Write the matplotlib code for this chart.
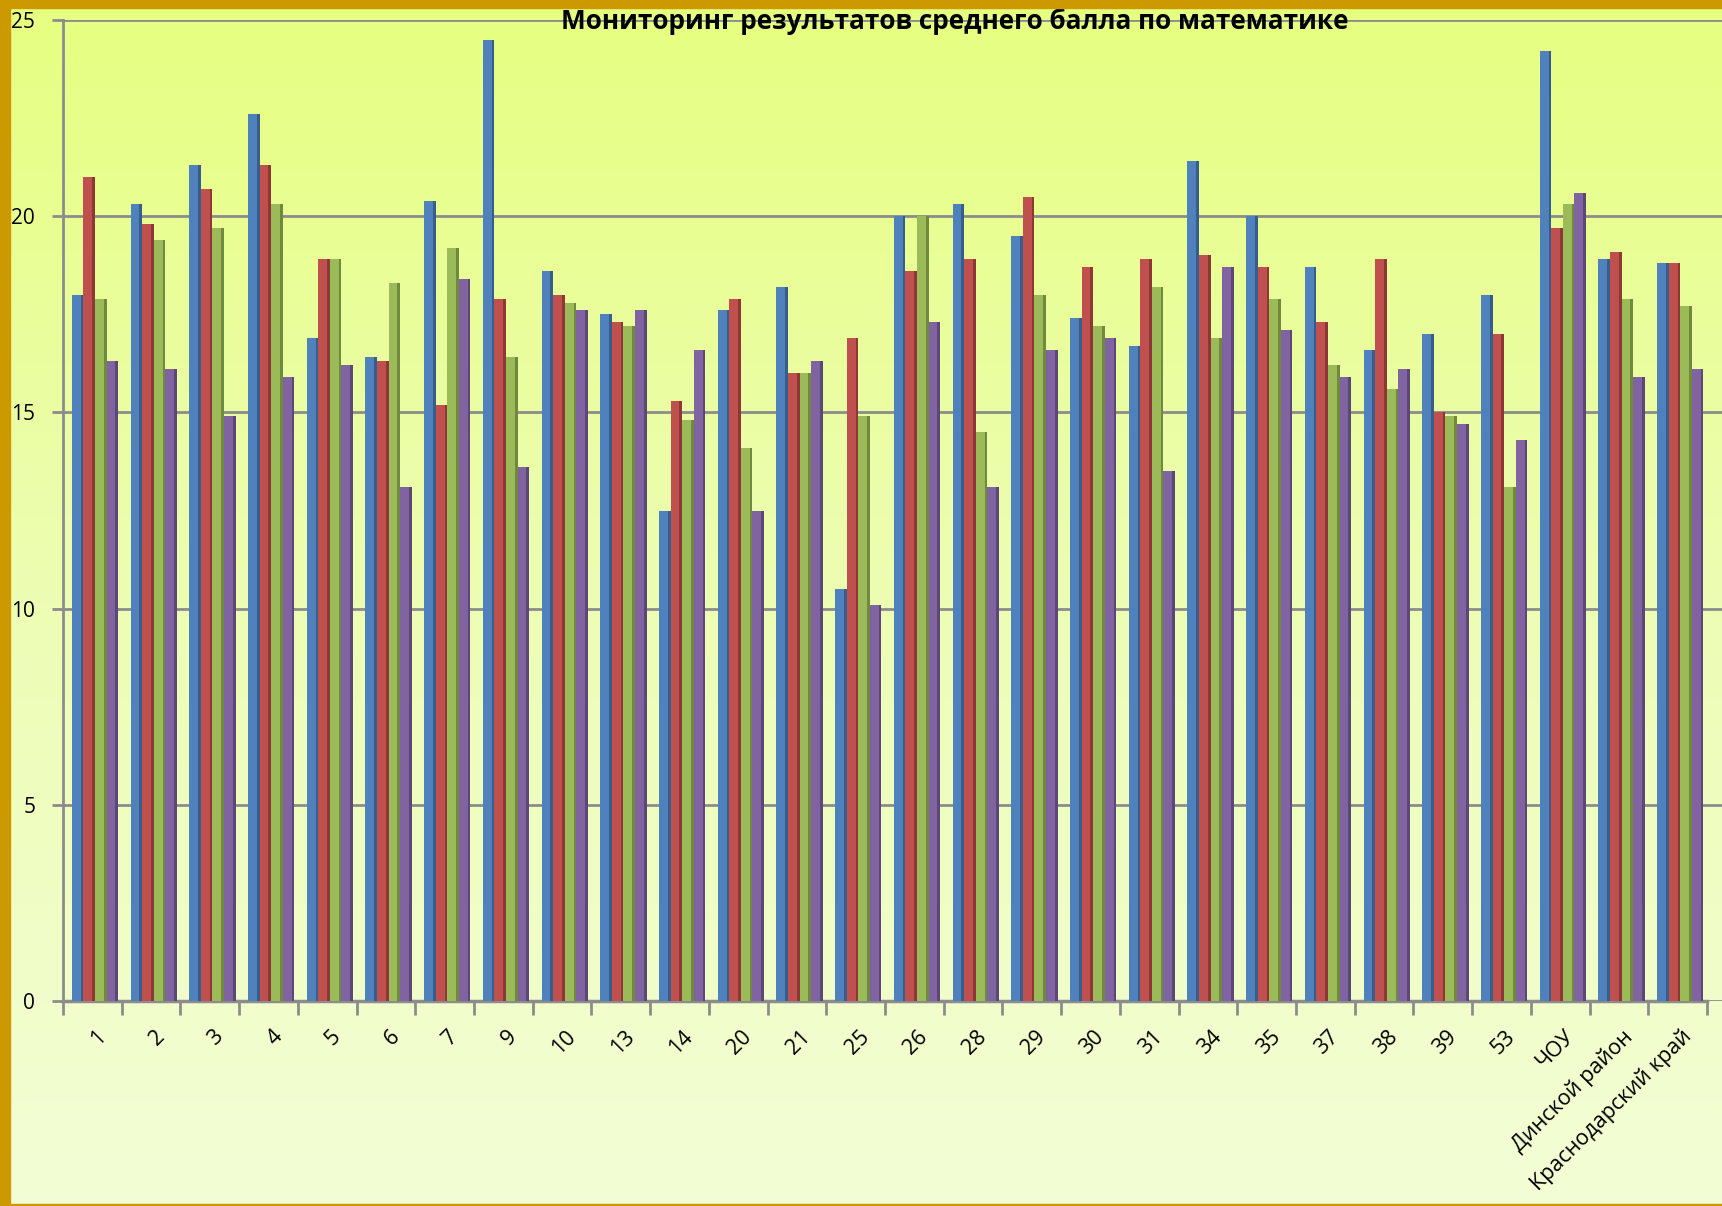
import numpy as np
import matplotlib
matplotlib.use('Agg')
from matplotlib import pyplot as plt
from matplotlib.patches import Rectangle
from matplotlib.colors import LinearSegmentedColormap

# data
schools = ["1", "2", "3", "4", "5", "6", "7", "9", "10", "13", "14", "20", "21", "25",
           "26", "28", "29", "30", "31", "34", "35", "37", "38", "39", "53", "ЧОУ",
           "Динской район", "Краснодарский край"]
blue = [18.0, 20.3, 21.3, 22.6, 16.9, 16.4, 20.4, 24.5, 18.6, 17.5, 12.5, 17.6, 18.2, 10.5,
        20.0, 20.3, 19.5, 17.4, 16.7, 21.4, 20.0, 18.7, 16.6, 17.0, 18.0, 24.2, 18.9, 18.8]
red = [21.0, 19.8, 20.7, 21.3, 18.9, 16.3, 15.2, 17.9, 18.0, 17.3, 15.3, 17.9, 16.0, 16.9,
       18.6, 18.9, 20.5, 18.7, 18.9, 19.0, 18.7, 17.3, 18.9, 15.0, 17.0, 19.7, 19.1, 18.8]
green = [17.9, 19.4, 19.7, 20.3, 18.9, 18.3, 19.2, 16.4, 17.8, 17.2, 14.8, 14.1, 16.0, 14.9,
         20.0, 14.5, 18.0, 17.2, 18.2, 16.9, 17.9, 16.2, 15.6, 14.9, 13.1, 20.3, 17.9, 17.7]
purple = [16.3, 16.1, 14.9, 15.9, 16.2, 13.1, 18.4, 13.6, 17.6, 17.6, 16.6, 12.5, 16.3, 10.1,
          17.3, 13.1, 16.6, 16.9, 13.5, 18.7, 17.1, 15.9, 16.1, 14.7, 14.3, 20.6, 15.9, 16.1]

series = [blue, red, green, purple]
colors = ["#4f81bd", "#c0504d", "#9bbb59", "#8064a2"]
sides = ["#385d8a", "#8c3836", "#71893f", "#5c4776"]

W, H = 1722, 1206
fig = plt.figure(figsize=(W / 100, H / 100), dpi=100)

# background gradient
bg = fig.add_axes([0, 0, 1, 1], zorder=-5)
cmap = LinearSegmentedColormap.from_list("bg", ["#e6ff80", "#edfdb4", "#f3fdd6"])
grad = np.linspace(0, 1, 256).reshape(-1, 1)
bg.imshow(grad, aspect="auto", cmap=cmap, extent=[0, 1, 0, 1], origin="upper")
bg.axis("off")

left = 63 / W
bottom = 1 - 1001 / H
top = 1 - 20 / H
ax = fig.add_axes([left, bottom, 1 - left, top - bottom])
ax.set_facecolor("none")

n = len(schools)
x = np.arange(n)
bw = 0.197
side_w = 0.045
for j, (vals, c, sc) in enumerate(zip(series, colors, sides)):
    pos = x - 0.35 + bw * j
    ax.bar(pos, vals, width=bw, align="edge", color=c, linewidth=0, zorder=3)
    ax.bar(pos + bw - side_w, vals, width=side_w, align="edge", color=sc, linewidth=0, zorder=4)

span = (1707 - 63) / n
ax.set_xlim(-0.5, -0.5 + (W - 63) / span)
ax.set_ylim(0, 25)
ax.set_yticks([0, 5, 10, 15, 20, 25])
ax.yaxis.grid(True, color="#8c8c8c", linewidth=2, zorder=1)
ax.set_axisbelow(True)

for s in ["top", "right", "bottom"]:
    ax.spines[s].set_visible(False)
ax.spines["left"].set_color("#8c8c8c")
ax.spines["left"].set_linewidth(2)
ax.plot([-0.5, n - 0.5], [0, 0], color="#8c8c8c", linewidth=2.5, clip_on=False, zorder=2)

ax.tick_params(axis="y", length=8, width=2, color="#8c8c8c", labelsize=15, pad=12)
ax.set_xticks(np.arange(n + 1) - 0.5, minor=True)
ax.set_xticks(x + 0.05)
ax.set_xticklabels(schools, rotation=45, ha="right", rotation_mode="anchor", fontsize=15.5)
ax.tick_params(axis="x", which="major", length=0, pad=18)
ax.tick_params(axis="x", which="minor", length=10, width=2, color="#8c8c8c")
for lab in ax.get_xticklabels() + ax.get_yticklabels():
    lab.set_family("Open Sans")

fig.text(955 / W, 1 - 21 / H, "Мониторинг результатов среднего балла по математике",
         ha="center", va="center", fontsize=18.8, fontweight="bold", family="Open Sans")

# gold frame
gold = "#cc9900"
fig.patches.append(Rectangle((0, 1 - 8 / H), 1, 8 / H, transform=fig.transFigure, color=gold, zorder=10))
fig.patches.append(Rectangle((0, 0), 10 / W, 1, transform=fig.transFigure, color=gold, zorder=10))
fig.patches.append(Rectangle((0, 0), 1, 2 / H, transform=fig.transFigure, color=gold, zorder=10))

fig.savefig("out.png", dpi=100)
